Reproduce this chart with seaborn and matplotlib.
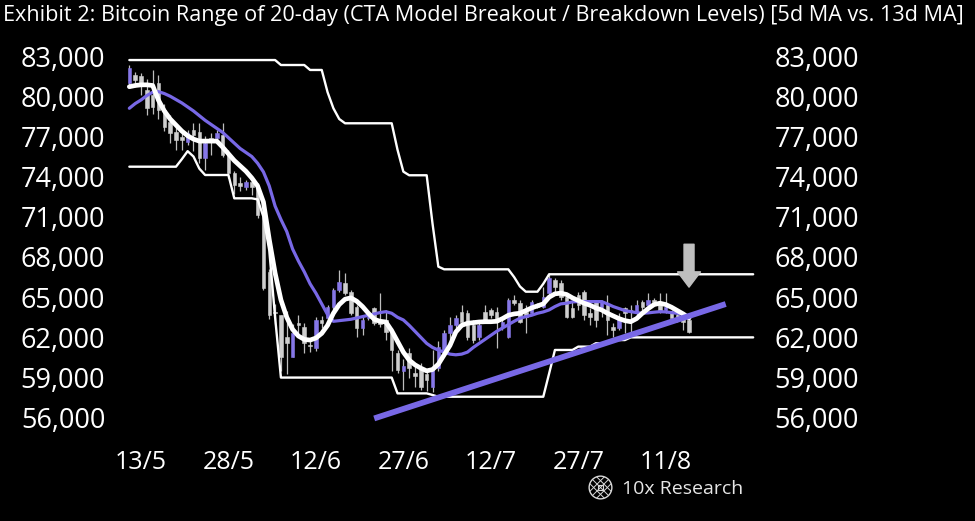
import numpy as np
import pandas as pd
import matplotlib
matplotlib.use('Agg')
import matplotlib.pyplot as plt
import matplotlib.patches as mpatches
import seaborn as sns

# daily candles, 11/5 -> 15/8
opens = [80960, 81580, 81500, 80460, 80090, 80960, 78970, 78100, 77350, 76980,
         76610, 77500, 77350, 75360, 76900, 76860, 77100, 75740, 74250, 73500,
         73250, 73600, 73250, 71130, 66900, 63900, 63670, 62000, 60560, 63100,
         62800, 61450, 61190, 63300, 63430, 64290, 65540, 66030, 65410, 64290,
         62680, 63420, 64170, 63300, 63300, 62430, 60810, 59520, 60810, 59320,
         59820, 59300, 58330, 59690, 61060, 62300, 62930, 63920, 63800, 62930,
         62050, 63920, 64040, 63920, 62800, 62050, 64790, 64540, 63920, 63800,
         64420, 64290, 65290, 66280, 66030, 65040, 64170, 65160, 65410, 63800,
         64670, 64290, 64420, 62800, 62680, 64170, 64040, 63920, 64670, 64420,
         64790, 64670, 64040, 63920, 63670, 63550, 63300]
highs = [82330, 81800, 81700, 81300, 81950, 81600, 79400, 78600, 77900, 77300,
         77500, 78000, 78000, 77000, 77230, 77500, 78000, 76000, 74400, 74000,
         73750, 73800, 73500, 71130, 67100, 64500, 63670, 64000, 63000, 63700,
         63050, 61800, 63550, 63600, 64420, 65660, 67000, 66780, 65540, 64420,
         63550, 63800, 64290, 65280, 64040, 62670, 61060, 60400, 61200, 60060,
         60100, 59600, 61060, 61700, 62550, 63550, 63670, 64420, 64040, 63300,
         63050, 64420, 64170, 64290, 63550, 64920, 65160, 64790, 64420, 64790,
         64540, 65790, 66780, 66410, 66280, 65290, 64670, 65410, 65540, 64170,
         64790, 64790, 65160, 63050, 63800, 64290, 64420, 64790, 64790, 65290,
         64920, 65290, 65290, 64040, 63800, 63670, 63420]
lows = [80590, 80700, 80100, 78600, 78700, 78300, 77400, 76500, 76000, 76000,
        76350, 75900, 75000, 74500, 75600, 76600, 75500, 73900, 72700, 72900,
        73000, 72600, 70900, 65500, 63400, 63000, 59500, 59300, 60500, 62300,
        60800, 60900, 61000, 62700, 63300, 64040, 65410, 65160, 63670, 62050,
        62170, 63300, 62920, 62800, 61800, 59500, 59320, 58070, 59000, 58300,
        58100, 58000, 57950, 59500, 60930, 61810, 62670, 62800, 61810, 61560,
        61810, 63050, 63420, 61190, 62550, 61930, 64420, 63050, 62300, 63670,
        64170, 64170, 65160, 65160, 64790, 63420, 63420, 64040, 63300, 62930,
        62800, 63550, 62170, 62050, 62550, 62300, 62300, 63550, 63800, 64290,
        64420, 63800, 63800, 63300, 63170, 62550, 62300]
closes = [82080, 81210, 80900, 79100, 79220, 78970, 77720, 77230, 76730, 76730,
          77230, 77100, 75360, 76490, 76600, 77230, 75610, 74250, 73380, 73300,
          73620, 73250, 71130, 65700, 63670, 63800, 60560, 61600, 62330, 62950,
          61560, 61350, 63300, 63050, 64290, 65540, 66160, 65290, 63800, 62670,
          63300, 63550, 63050, 62980, 62430, 61060, 59570, 59830, 59690, 59100,
          58330, 58800, 59690, 61310, 62300, 62930, 63430, 63170, 62050, 61810,
          62930, 63300, 63670, 63170, 63170, 64790, 64540, 63170, 63550, 64660,
          64290, 65040, 66410, 65780, 65040, 63550, 63550, 64420, 63670, 63550,
          63300, 64670, 63300, 62550, 63550, 63800, 63920, 64420, 64290, 64790,
          64670, 63920, 64290, 63430, 63300, 63170, 62430]

# 5d and 13d moving averages
ma5 = [80710, 80800, 80850, 80850, 80800, 79700, 78900, 78300, 77850, 77400,
       77050, 76800, 76650, 76650, 76650, 76650, 76200, 75700, 75200, 74800,
       74400, 73900, 73300, 72100, 69300, 66800, 64800, 63500, 62600, 62100,
       61850, 61800, 61950, 62300, 62900, 63800, 64450, 64850, 64950, 64700,
       64300, 63800, 63350, 63200, 63150, 62500, 61700, 60900, 60300, 59950,
       59700, 59500, 59600, 60000, 60700, 61400, 62400, 62900, 63050, 63100,
       63150, 63170, 63170, 63200, 63400, 63650, 63750, 63800, 64000, 64200,
       64350, 64500, 65000, 65250, 65300, 65200, 64950, 64750, 64550, 64400,
       64200, 64050, 63800, 63600, 63400, 63250, 63170, 63400, 63800, 64150,
       64450, 64550, 64450, 64250, 64000, 63750, 63450]
ma13 = [79100, 79450, 79720, 80050, 80300, 80340, 80200, 80000, 79750, 79500,
        79200, 78900, 78550, 78200, 77900, 77600, 77300, 76900, 76500, 76100,
        75800, 75500, 75000, 74350, 73300, 71800, 70800, 69900, 68600, 67700,
        66900, 66000, 65300, 64500, 63700, 63200, 63250, 63300, 63350, 63450,
        63550, 63650, 63750, 63850, 63920, 63800, 63500, 63300, 62900, 62450,
        62000, 61550, 61250, 61050, 60900, 60750, 60700, 60750, 60900, 61250,
        61550, 61850, 62150, 62450, 62700, 62950, 63200, 63430, 63550, 63650,
        63800, 63900, 64050, 64300, 64500, 64550, 64650, 64670, 64670, 64670,
        64670, 64670, 64500, 64300, 64150, 64000, 63920, 63850, 63800, 63830,
        63880, 63920, 63900, 63850, 63800, 63700, 63550]

# 20-day breakout / breakdown levels, 11/5 -> 26/8
upper = [82700, 82700, 82700, 82700, 82700, 82700, 82700, 82700, 82700, 82700,
         82700, 82700, 82700, 82700, 82700, 82700, 82700, 82700, 82700, 82700,
         82700, 82700, 82700, 82700, 82700, 82700, 82330, 82330, 82330, 82330,
         82330, 81960, 81960, 81960, 80300, 79100, 78300, 77980, 77980, 77980,
         77980, 77980, 77980, 77980, 77980, 77980, 76000, 74370, 74100, 74100,
         74100, 74100, 70500, 67280, 67080, 67080, 67080, 67080, 67080, 67080,
         67080, 67080, 67080, 67080, 67080, 67080, 66500, 65800, 65410, 65410,
         65410, 66000, 66710, 66710, 66710, 66710, 66710, 66710, 66710, 66710,
         66710, 66710, 66710, 66710, 66710, 66710, 66710, 66710, 66710, 66710,
         66710, 66710, 66710, 66710, 66710, 66710, 66710, 66710, 66710, 66710,
         66710, 66710, 66710, 66710, 66710, 66710, 66710, 66710]
lower = [74740, 74740, 74740, 74740, 74740, 74740, 74740, 74740, 74740, 75300,
         75900, 75500, 74600, 74120, 74120, 74120, 74120, 74120, 72380, 72380,
         72380, 72380, 72300, 71000, 68500, 63500, 59000, 59000, 59000, 59000,
         59000, 59000, 59000, 59000, 59000, 59000, 59000, 59000, 59000, 59000,
         59000, 59000, 59000, 59000, 59000, 59000, 57820, 57820, 57820, 57820,
         57820, 57820, 57700, 57570, 57570, 57570, 57570, 57570, 57570, 57570,
         57570, 57570, 57570, 57570, 57570, 57570, 57570, 57570, 57570, 57570,
         57570, 57570, 59300, 61060, 61060, 61060, 61060, 61310, 61310, 61310,
         61560, 61560, 61560, 61800, 61800, 61800, 62000, 62000, 62000, 62000,
         62000, 62000, 62000, 62000, 62000, 62000, 62000, 62000, 62000, 62000,
         62000, 62000, 62000, 62000, 62000, 62000, 62000, 62000]

# rising support line and the arrow
trend_dates = ['2024-06-22 00:00', '2024-08-21 07:00']
trend_values = [55950, 64490]
arrow_date = '2024-08-15'
arrow_top, arrow_tip = 68950, 65750

tick_dates = ['2024-05-13', '2024-05-28', '2024-06-12', '2024-06-27',
              '2024-07-12', '2024-07-27', '2024-08-11']
tick_labels = ['13/5', '28/5', '12/6', '27/6', '12/7', '27/7', '11/8']
y_ticks = [56000, 59000, 62000, 65000, 68000, 71000, 74000, 77000, 80000, 83000]

dates = pd.date_range('2024-05-11', periods=len(closes), freq='D')
band_dates = pd.date_range('2024-05-11', periods=len(upper), freq='D')

sns.set_theme(style='dark', rc={'axes.facecolor': 'black', 'figure.facecolor': 'black'})
plt.rcParams['font.family'] = ['Open Sans', 'DejaVu Sans']

PURPLE = '#7868e6'
UP = '#8677e8'
DOWN = '#cfcfcf'

fig = plt.figure(figsize=(9.75, 5.21), dpi=100)
ax = fig.add_axes([115 / 975, 96 / 521, 650 / 975, 375 / 521])

# candles
o = np.array(opens)
c = np.array(closes)
up = c >= o
body_col = np.where(up, UP, DOWN)
ax.vlines(dates, lows, highs, color='#bdbdbd', lw=0.9, zorder=1)
ax.bar(dates, c - o, bottom=o, width=0.6, color=body_col, edgecolor=body_col,
       lw=0.4, zorder=2)

# bands and moving averages
sns.lineplot(x=band_dates, y=upper, ax=ax, color='white', lw=1.7, zorder=3)
sns.lineplot(x=band_dates, y=lower, ax=ax, color='white', lw=1.7, zorder=3)
sns.lineplot(x=dates, y=ma13, ax=ax, color=PURPLE, lw=2.3, zorder=4)
sns.lineplot(x=dates, y=ma5, ax=ax, color='white', lw=3.4, zorder=5)
sns.lineplot(x=pd.to_datetime(trend_dates), y=trend_values, ax=ax,
             color=PURPLE, lw=4.2, zorder=6, solid_capstyle='butt')

ax.annotate('', xy=(pd.Timestamp(arrow_date), arrow_tip),
            xytext=(pd.Timestamp(arrow_date), arrow_top),
            arrowprops=dict(arrowstyle='simple,head_length=1.1,head_width=1.65,tail_width=0.72',
                            mutation_scale=10, color='#bfbfbf', shrinkA=0, shrinkB=0),
            zorder=7)

d0 = pd.Timestamp('2024-05-13')
ax.set_xlim(d0 - pd.Timedelta(days=4.46), d0 + pd.Timedelta(days=107.03))
ax.set_ylim(55460, 83450)

ax.set_xticks(pd.to_datetime(tick_dates))
ax.set_xticklabels(tick_labels)
ax.set_yticks(y_ticks)
ax.set_yticklabels([f'{v:,}' for v in y_ticks])
ax.tick_params(axis='x', colors='white', labelsize=18, length=0, pad=18)
ax.tick_params(axis='y', colors='white', labelsize=19.5, length=0, pad=7,
               labelleft=True, labelright=True)
for lab in ax.get_yticklabels(which='both'):
    lab.set_color('white')
for lab in ax.yaxis.get_ticklabels(which='both'):
    lab.set_color('white')
ax.yaxis.set_tick_params(which='major', right=False, pad=7)
ax.grid(False)
for s in ax.spines.values():
    s.set_visible(False)
ax.set_xlabel('')
ax.set_ylabel('')

fig.text(0.003, 1 - 16 / 521,
         'Exhibit 2: Bitcoin Range of 20-day (CTA Model Breakout / Breakdown Levels) [5d MA vs. 13d MA]',
         color='white', fontsize=15.6, va='center', ha='left')

# 10x Research logo
lax = fig.add_axes([588 / 975, 21 / 521, 25 / 975, 25 / 521])
lax.set_xlim(-1.1, 1.1)
lax.set_ylim(-1.1, 1.1)
lax.set_aspect('equal')
lax.axis('off')
ring = mpatches.Circle((0, 0), 1.0, fill=False, ec='#d8d8d8', lw=1.0)
lax.add_patch(ring)
for k in (-0.6, 0.0, 0.6):
    for ln in (lax.plot([-1.2, 1.2], [-1.2 + k, 1.2 + k], color='#d8d8d8', lw=0.7),
               lax.plot([-1.2, 1.2], [1.2 + k, -1.2 + k], color='#d8d8d8', lw=0.7)):
        ln[0].set_clip_path(ring)
lax.add_patch(mpatches.Rectangle((-0.22, -0.22), 0.44, 0.44, fill=False, ec='#d8d8d8', lw=0.8))
fig.text(622 / 975, 1 - 489 / 521, '10x Research', color='#e6e6e6', fontsize=14,
         va='center', ha='left')

fig.savefig('out.png', dpi=100, facecolor='black')
